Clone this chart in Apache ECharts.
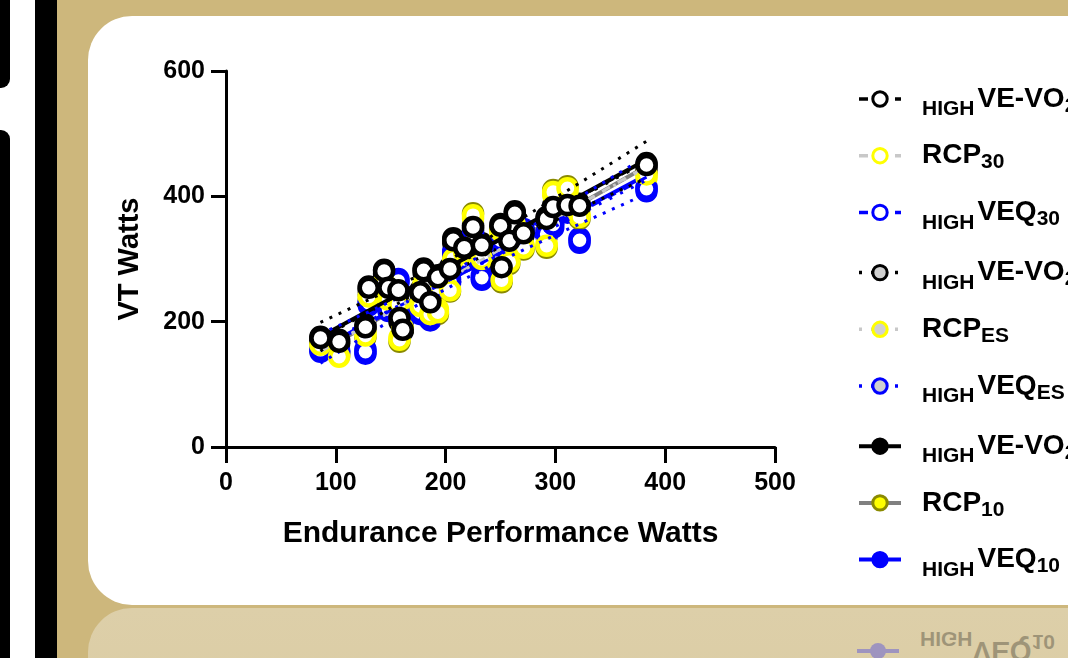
<!DOCTYPE html>
<html>
<head>
<meta charset="utf-8">
<script src="https://cdn.jsdelivr.net/npm/echarts@6/dist/echarts.min.js"></script>
<style>
html,body{margin:0;padding:0;width:1068px;height:658px;overflow:hidden;background:#CDB77C;}
.wstrip{position:absolute;left:0;top:0;width:35px;height:658px;background:#fff;}
.blk1{position:absolute;left:0;top:0;width:10px;height:88px;background:#000;border-bottom-right-radius:9px;}
.blk2{position:absolute;left:0;top:130px;width:10px;height:528px;background:#000;border-top-right-radius:9px;}
.bar{position:absolute;left:35px;top:0;width:22px;height:658px;background:#000;}
.card{position:absolute;left:88px;top:16px;width:1100px;height:589px;background:#fff;border-radius:44px;}
.refl{position:absolute;left:88px;top:608px;width:1100px;height:200px;border-radius:44px;background:linear-gradient(#DDCFA9,#D9CA9F);}
#mir{position:absolute;left:857px;top:636px;height:30px;width:220px;transform:scaleY(-1);opacity:.28;}
#chart{position:absolute;left:0;top:0;width:1068px;height:658px;}
</style>
</head>
<body>
<div class="wstrip"></div>
<div class="blk1"></div>
<div class="blk2"></div>
<div class="bar"></div>
<div class="card"></div>
<div class="refl"></div>
<div id="mir">
  <div style="position:absolute;left:0;top:13px;width:42px;height:4px;background:#0000FF"></div>
  <div style="position:absolute;left:13px;top:7px;width:16px;height:16px;border-radius:50%;background:#0000FF"></div>
  <div style="position:absolute;left:63px;top:0;font:bold 28px 'Liberation Sans',Arial,sans-serif;line-height:30px;white-space:nowrap;color:#000"><span style="font-size:21px;position:relative;top:10px">HIGH</span>VEQ<span style="font-size:21px;position:relative;top:7px">10</span></div>
</div>
<div id="chart"></div>
<script>
// ---------------- data ----------------
const xWatts = [86, 103, 127, 130, 144, 148, 157, 158, 161, 177, 180, 186, 193, 204, 207, 217, 225, 233, 250, 251, 258, 263, 271, 292, 298, 311, 322, 383];
const veVo30 = [174, 168, 191, 254, 281, 254, 250, 206, 187, 247, 282, 231, 271, 284, 330, 318, 351, 322, 353, 287, 329, 373, 341, 364, 383, 386, 385, 450];
const rcp30  = [163, 144, 178, 240, 262, 235, 228, 171, 190, 225, 260, 212, 215, 250, 300, 310, 370, 300, 345, 266, 295, 355, 318, 321, 407, 413, 367, 435];
const veq30  = [155, 152, 152, 230, 245, 220, 265, 210, 200, 215, 240, 205, 255, 265, 310, 300, 340, 270, 330, 300, 305, 360, 345, 340, 355, 378, 330, 412];
const veVoEs = [170, 165, 195, 250, 276, 258, 245, 200, 185, 250, 278, 235, 268, 280, 325, 322, 348, 318, 350, 290, 325, 368, 345, 360, 380, 390, 382, 446];
const rcpEs  = [160, 148, 182, 236, 258, 232, 232, 175, 192, 228, 262, 215, 220, 252, 296, 305, 365, 304, 342, 270, 298, 350, 322, 325, 402, 408, 371, 430];
const veqEs  = [158, 150, 156, 226, 248, 224, 262, 213, 204, 218, 244, 208, 258, 261, 306, 296, 336, 274, 327, 296, 309, 356, 348, 336, 350, 374, 326, 408];
const veVo10 = [176, 171, 188, 256, 283, 250, 252, 208, 190, 245, 285, 228, 274, 287, 333, 315, 354, 325, 356, 284, 332, 376, 338, 367, 386, 383, 388, 453];
const rcp10  = [166, 146, 175, 243, 265, 238, 225, 168, 188, 222, 257, 210, 212, 248, 303, 313, 373, 297, 348, 263, 292, 358, 315, 318, 410, 416, 364, 438];
const veq10  = [152, 154, 149, 233, 242, 217, 268, 207, 197, 212, 237, 202, 252, 268, 313, 303, 343, 267, 333, 303, 302, 363, 342, 343, 358, 381, 333, 415];

const seriesNames = ['HIGH VE-VO2 30', 'RCP 30', 'HIGH VEQ 30', 'HIGH VE-VO2 ES', 'RCP ES', 'HIGH VEQ ES', 'HIGH VE-VO2 10', 'RCP 10', 'HIGH VEQ 10'];
const legendLabels = [
  '{hl|HIGH}{b|VE-VO}{sub|2 30}',
  '{bl|RCP}{sub|30}',
  '{hl|HIGH}{b|VEQ}{sub|30}',
  '{hl|HIGH}{b|VE-VO}{sub|2 ES}',
  '{bl|RCP}{sub|ES}',
  '{hl|HIGH}{b|VEQ}{sub|ES}',
  '{hl|HIGH}{b|VE-VO}{sub|2 10}',
  '{bl|RCP}{sub|10}',
  '{hl|HIGH}{b|VEQ}{sub|10}'
];
const xTicks = [0, 100, 200, 300, 400, 500];
const yTicks = [0, 200, 400, 600];
const seriesValues = [veVo30, rcp30, veq30, veVoEs, rcpEs, veqEs, veVo10, rcp10, veq10];

// ---------------- styles ----------------
const FONT = '"Liberation Sans", Arial, Helvetica, sans-serif';
const styles = [
  {line: '#000000', type: [9, 9], lw: 3, fill: '#FFFFFF', border: '#000000', zl: 4},
  {line: '#C8C8C8', type: [9, 9], lw: 3, fill: '#FFFFFF', border: '#FFFF00', zl: 4},
  {line: '#0000FF', type: [9, 9], lw: 3, fill: '#FFFFFF', border: '#0000FF', zl: 4},
  {line: '#000000', type: [3, 9], lw: 3, fill: '#D0D0D0', border: '#000000', zl: 4},
  {line: '#C8C8C8', type: [3, 9], lw: 3, fill: '#D0D0D0', border: '#FFFF00', zl: 4},
  {line: '#0000FF', type: [3, 9], lw: 3, fill: '#D0D0D0', border: '#0000FF', zl: 4},
  {line: '#000000', type: 'solid', lw: 4, fill: '#000000', border: '#000000', zl: 4},
  {line: '#808080', type: 'solid', lw: 4, fill: '#FFFF00', border: '#8A8A00', zl: 2},
  {line: '#0000FF', type: 'solid', lw: 4, fill: '#0000FF', border: '#0000FF', zl: 2}
];

// linear regression from the data
function fit(xs, ys) {
  const n = xs.length;
  const mx = xs.reduce((a, b) => a + b, 0) / n;
  const my = ys.reduce((a, b) => a + b, 0) / n;
  let sxx = 0, sxy = 0;
  for (let i = 0; i < n; i++) { sxx += (xs[i] - mx) ** 2; sxy += (xs[i] - mx) * (ys[i] - my); }
  const b = sxy / sxx, a = my - b * mx;
  let sse = 0;
  for (let i = 0; i < n; i++) sse += (ys[i] - a - b * xs[i]) ** 2;
  const s = Math.sqrt(sse / (n - 2));
  return {a, b, mx, sxx, s, n};
}
const xMin = Math.min(...xWatts), xMax = Math.max(...xWatts);
const T95 = 2.056;

const series = [];
// fit lines first (legend icons come from them)
seriesValues.forEach((ys, i) => {
  const f = fit(xWatts, ys);
  const st = styles[i];
  series.push({
    type: 'line', name: seriesNames[i], z: st.zl, silent: true,
    data: [[xMin, f.a + f.b * xMin], [xMax, f.a + f.b * xMax]],
    symbol: 'circle', symbolSize: 16, showSymbol: false,
    lineStyle: {color: st.line, type: st.type, width: st.lw},
    itemStyle: {color: st.fill, borderColor: st.border, borderWidth: 3},
    emphasis: {disabled: true}
  });
});
// 95% confidence bands (dotted) for the 10-s fits of VE-VO2 and VEQ
[[6, '#000000'], [8, '#0000FF']].forEach(([idx, col]) => {
  const f = fit(xWatts, seriesValues[idx]);
  [1, -1].forEach(sign => {
    series.push({
      type: 'line', z: 4, silent: true, showSymbol: false, smooth: false,
      data: xWatts.map(x => [x, f.a + f.b * x + sign * T95 * f.s * Math.sqrt(1 / f.n + (x - f.mx) ** 2 / f.sxx)]),
      lineStyle: {color: col, type: [3, 7], width: 3},
      emphasis: {disabled: true}
    });
  });
});
// scatter points, drawn so the first data set ends up on top
for (let i = seriesValues.length - 1; i >= 0; i--) {
  const st = styles[i];
  series.push({
    type: 'scatter', name: seriesNames[i], z: i === 0 ? 5 : 3, silent: true,
    symbol: 'circle', symbolSize: 18,
    data: xWatts.map((x, k) => [x, seriesValues[i][k]]),
    itemStyle: {color: st.fill, borderColor: st.border, borderWidth: 4.5, opacity: 1},
    emphasis: {disabled: true}
  });
}

const chart = echarts.init(document.getElementById('chart'), null, {renderer: 'canvas'});
const tick = {fontFamily: FONT, fontWeight: 'bold', color: '#000'};
chart.setOption({
  animation: false,
  backgroundColor: 'transparent',
  grid: {left: 226, top: 71, width: 549, height: 376, containLabel: false},
  xAxis: {
    type: 'value', min: xTicks[0], max: xTicks[xTicks.length - 1], interval: 100,
    name: 'Endurance Performance Watts', nameLocation: 'middle', nameGap: 72,
    nameTextStyle: {fontFamily: FONT, fontWeight: 'bold', fontSize: 30, color: '#000'},
    axisLine: {show: true, onZero: false, lineStyle: {color: '#000', width: 3}},
    axisTick: {show: true, length: 16, lineStyle: {color: '#000', width: 3}},
    axisLabel: Object.assign({fontSize: 25, margin: 24}, tick),
    splitLine: {show: false}
  },
  yAxis: {
    type: 'value', min: yTicks[0], max: yTicks[yTicks.length - 1], interval: 200,
    name: 'VT Watts', nameLocation: 'middle', nameGap: 82,
    nameTextStyle: {fontFamily: FONT, fontWeight: 'bold', fontSize: 29, color: '#000'},
    axisLine: {show: true, onZero: false, lineStyle: {color: '#000', width: 3}},
    axisTick: {show: true, length: 15, lineStyle: {color: '#000', width: 3}},
    axisLabel: Object.assign({fontSize: 25, margin: 21}, tick),
    splitLine: {show: false}
  },
  legend: {
    orient: 'vertical', left: 852, top: 73, padding: 5,
    itemWidth: 42, itemHeight: 18, itemGap: 18.2, selectedMode: false,
    data: seriesNames.map((n, i) => ({name: n, itemStyle: {borderWidth: 3}, lineStyle: {width: i >= 6 ? 4 : 3.5}})),
    formatter: name => legendLabels[seriesNames.indexOf(name)],
    textStyle: {
      color: '#000', fontFamily: FONT, fontWeight: 'bold', fontSize: 28,
      rich: {
        hl: {fontFamily: FONT, fontWeight: 'bold', fontSize: 21, color: '#000', lineHeight: 30, verticalAlign: 'middle', padding: [21, 3, 0, 16]},
        b: {fontFamily: FONT, fontWeight: 'bold', fontSize: 28, color: '#000', lineHeight: 30, verticalAlign: 'middle'},
        bl: {fontFamily: FONT, fontWeight: 'bold', fontSize: 28, color: '#000', lineHeight: 30, verticalAlign: 'middle', padding: [0, 0, 0, 16]},
        sub: {fontFamily: FONT, fontWeight: 'bold', fontSize: 21, color: '#000', lineHeight: 30, verticalAlign: 'middle', padding: [14, 0, 0, 0]}
      }
    }
  },
  tooltip: {show: false},
  series: series
});
</script>
</body>
</html>
